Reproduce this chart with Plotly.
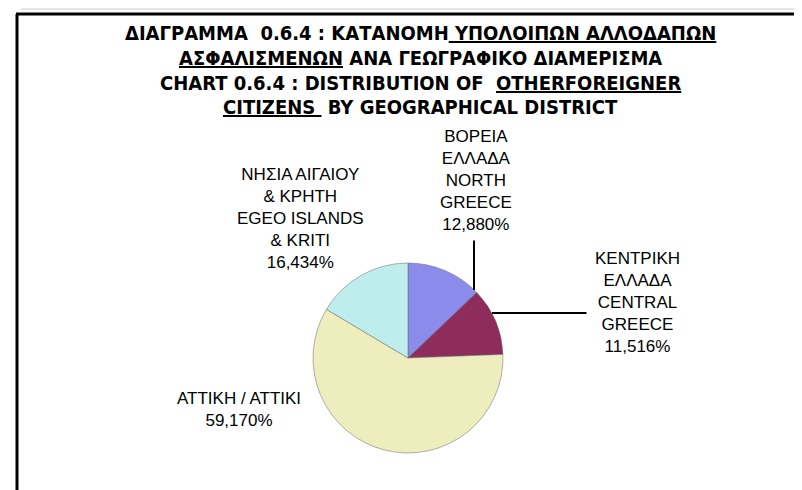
import plotly.graph_objects as go

# ---- data ----
region_labels = [
    "ΒΟΡΕΙΑ<br>ΕΛΛΑΔΑ<br>NORTH<br>GREECE",
    "ΚΕΝΤΡΙΚΗ<br>ΕΛΛΑΔΑ<br>CENTRAL<br>GREECE",
    "ΑΤΤΙΚΗ / ΑΤΤΙΚΙ",
    "ΝΗΣΙΑ ΑΙΓΑΙΟΥ<br>& ΚΡΗΤΗ<br>EGEO ISLANDS<br>& KRITI",
]
region_values = [12.880, 11.516, 59.170, 16.434]
slice_colors = ["#8B8BEB", "#8E2D5C", "#EDEDBE", "#BDEDEC"]

U = '<span style="text-decoration:underline">'
E = '</span>'
title_lines = [
    f"ΔΙΑΓΡΑΜΜΑ  0.6.4 : ΚΑΤΑΝΟΜΗ{U} ΥΠΟΛΟΙΠΩΝ ΑΛΛΟΔΑΠΩΝ{E}",
    f"{U}ΑΣΦΑΛΙΣΜΕΝΩΝ{E} ΑΝΑ ΓΕΩΓΡΑΦΙΚΟ ΔΙΑΜΕΡΙΣΜΑ",
    f"CHART 0.6.4 : DISTRIBUTION OF  {U}OTHERFOREIGNER{E}",
    f"{U}CITIZENS {E} BY GEOGRAPHICAL DISTRICT",
]

W, H = 802, 490

def px(x):
    return x / W

def py(y):
    return 1 - y / H

fig = go.Figure()

# pie: circle centre (400, 350) px, radius 95 px
cx, cy, r = 400, 350, 95
fig.add_trace(go.Pie(
    labels=[l.replace("<br>", " ") for l in region_labels],
    values=region_values,
    sort=False,
    direction="clockwise",
    rotation=0,
    marker=dict(colors=slice_colors, line=dict(color="#666666", width=0.5)),
    textinfo="none",
    hoverinfo="label+percent",
    showlegend=False,
    domain=dict(x=[px(cx - r), px(cx + r)], y=[py(cy + r), py(cy - r)]),
))

def fmt(v):
    return f"{v:.3f}".replace(".", ",") + "%"

label_font = dict(family="Liberation Sans, Arial, sans-serif", size=17, color="#000000")

# label anchor positions (text boxes), px
label_pos = [
    (468, 117, "center", "top"),   # North
    (629, 239, "center", "top"),   # Central
    (231, 379, "center", "top"),   # Attiki
    (292, 155, "center", "top"),   # Aegean
]

annotations = []
for lab, val, (x, y, xa, ya) in zip(region_labels, region_values, label_pos):
    annotations.append(dict(
        x=px(x), y=py(y), xref="paper", yref="paper",
        text=f"{lab}<br>{fmt(val)}", showarrow=False,
        xanchor=xa, yanchor=ya, align="center", font=label_font,
    ))

# leader lines
annotations.append(dict(x=px(466), y=py(282), xref="paper", yref="paper", text="",
                        showarrow=True, arrowhead=0, arrowwidth=2, arrowcolor="#000000",
                        ax=0, ay=-51, standoff=0, startstandoff=0))
annotations.append(dict(x=px(484), y=py(305), xref="paper", yref="paper", text="",
                        showarrow=True, arrowhead=0, arrowwidth=2, arrowcolor="#000000",
                        ax=96, ay=0, standoff=0, startstandoff=0))

# title, one annotation per line
title_font = dict(family="Liberation Sans Narrow, DejaVu Sans Condensed, Arial Narrow, sans-serif",
                  size=20, color="#000000")
for line, yc in zip(title_lines, [25, 50, 75, 99]):
    annotations.append(dict(
        x=px(412), y=py(yc), xref="paper", yref="paper", text=f"<b>{line}</b>",
        showarrow=False, xanchor="center", yanchor="middle", align="center",
        font=title_font,
    ))

shapes = [
    # outer frame (left + top lines)
    dict(type="line", xref="paper", yref="paper", x0=px(9), x1=px(9), y0=py(6), y1=py(H + 5),
         line=dict(color="#000000", width=3)),
    dict(type="line", xref="paper", yref="paper", x0=px(8), x1=px(W + 5), y0=py(6), y1=py(6),
         line=dict(color="#000000", width=3)),
    dict(type="line", xref="paper", yref="paper", x0=px(13), x1=px(W + 5), y0=py(1), y1=py(1),
         line=dict(color="#E6E6E6", width=2)),
]

fig.update_layout(
    width=W, height=H,
    margin=dict(l=0, r=0, t=0, b=0),
    paper_bgcolor="#FFFFFF",
    plot_bgcolor="#FFFFFF",
    annotations=annotations,
    shapes=shapes,
)

fig.write_html("out.html")
